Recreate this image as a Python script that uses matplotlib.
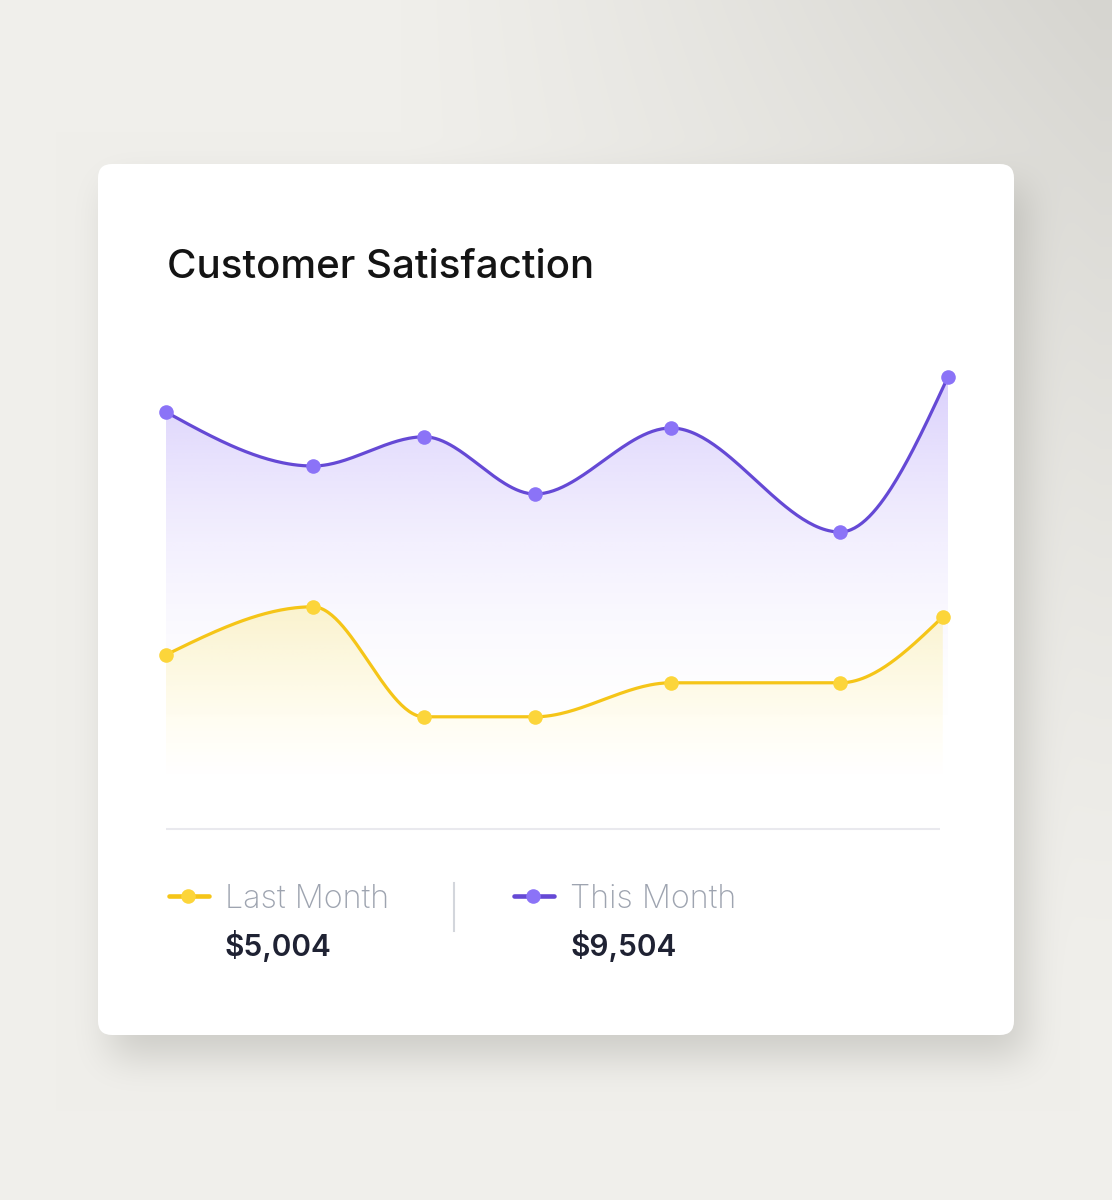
import numpy as np
import matplotlib
matplotlib.use("Agg")
import matplotlib.pyplot as plt
from matplotlib.patches import FancyBboxPatch, Polygon

# data (day of month, score)
days_this = [1, 6.64, 10.9, 15.16, 20.37, 26.86, 31]
days_last = [1, 6.64, 10.9, 15.16, 20.37, 26.86, 30.8]
this_month = [97, 83.5, 90.8, 76.5, 93, 67, 105.8]
last_month = [36.3, 48.3, 20.8, 20.8, 29.3, 29.3, 45.8]
series_names = ["Last Month", "This Month"]
totals = ["$5,004", "$9,504"]
title = "Customer Satisfaction"

W, H = 1112, 1200
FONT = ["Inter", "DejaVu Sans"]


def monotone(x, y, n=60):
    x = np.asarray(x, float)
    y = np.asarray(y, float)
    h = np.diff(x)
    s = np.diff(y) / h
    m = np.zeros_like(y)
    for i in range(1, len(y) - 1):
        if s[i - 1] * s[i] <= 0:
            m[i] = 0
        else:
            p = (s[i - 1] * h[i] + s[i] * h[i - 1]) / (h[i - 1] + h[i])
            m[i] = (np.sign(s[i - 1]) + np.sign(s[i])) * min(abs(s[i - 1]), abs(s[i]), 0.5 * abs(p))
    m[0] = (3 * s[0] - m[1]) / 2
    m[-1] = (3 * s[-1] - m[-2]) / 2
    xs, ys = [], []
    for i in range(len(h)):
        t = np.linspace(0, 1, n)
        h00 = 2 * t**3 - 3 * t**2 + 1
        h10 = t**3 - 2 * t**2 + t
        h01 = -2 * t**3 + 3 * t**2
        h11 = t**3 - t**2
        xs.append(x[i] + t * h[i])
        ys.append(h00 * y[i] + h10 * h[i] * m[i] + h01 * y[i + 1] + h11 * h[i] * m[i + 1])
    return np.concatenate(xs), np.concatenate(ys)


def box_blur(a, r, axis):
    c = np.cumsum(np.pad(a, [(r + 1, r) if ax == axis else (0, 0) for ax in range(2)], mode="edge"), axis=axis)
    if axis == 0:
        return (c[2 * r + 1:] - c[:-2 * r - 1]) / (2 * r + 1)
    return (c[:, 2 * r + 1:] - c[:, :-2 * r - 1]) / (2 * r + 1)


# background with soft shadow
yy, xx = np.mgrid[0:H, 0:W]
t = np.clip((xx - 400) / 700, 0, 1) ** 1.1 * np.clip(1 - yy / 1000, 0, 1) ** 1.3
light = np.array([240, 239, 235]) / 255
dark = np.array([214, 213, 208]) / 255
bg = light[None, None, :] * (1 - t[..., None]) + dark[None, None, :] * t[..., None]

card = (98, 164, 1014, 1035)
mask = np.zeros((H, W))
mask[card[1] + 22:card[3] + 22, card[0] + 12:card[2] + 12] = 1.0
for _ in range(3):
    mask = box_blur(mask, 18, 0)
    mask = box_blur(mask, 18, 1)
a = (mask * 0.28)[..., None]
bg = bg * (1 - a) + np.array([0.45, 0.45, 0.42])[None, None, :] * a

fig = plt.figure(figsize=(W / 100, H / 100), dpi=100)
bax = fig.add_axes([0, 0, 1, 1])
bax.imshow(bg, extent=(0, W, H, 0), aspect="auto", interpolation="bilinear")
bax.set_xlim(0, W)
bax.set_ylim(H, 0)
bax.axis("off")

bax.add_patch(FancyBboxPatch((card[0], card[1]), card[2] - card[0], card[3] - card[1],
                             boxstyle="round,pad=0,rounding_size=14", fc="white", ec="none"))

bax.text(167, 278, title, fontsize=29, color="#141414", family=FONT, fontweight="medium", va="baseline")

# separator and legend
bax.plot([166, 940], [829, 829], color="#e9e9ee", lw=1.5, solid_capstyle="butt")
bax.plot([454, 454], [883, 931], color="#d3d6dc", lw=1.5)

legend = [(167, 225, "#f5c518", "#fcd53a"), (512, 570, "#6549d5", "#8b73f7")]
for (lx, tx, lc, mc), name, val in zip(legend, series_names, totals):
    bax.plot([lx + 2, lx + 42], [896, 896], color=lc, lw=3.3, solid_capstyle="round")
    bax.plot([lx + 21], [896], "o", color=mc, ms=10.5, mec="none")
    bax.text(tx, 908, name, fontsize=23.3, color="#9ea4b0", family=FONT, fontweight="light", va="baseline")
    bax.text(tx, 956, val, fontsize=21.5, color="#1f2233", family=FONT, fontweight="semibold", va="baseline")

# chart area: x 166..948 px, value 0 at y=800 px, 110 at y=360 px
ax = fig.add_axes([166 / W, (H - 800) / H, 782 / W, 440 / H])
ax.set_xlim(1, 31)
ax.set_ylim(0, 110)
ax.patch.set_alpha(0)
ax.axis("off")

# (x, y, line colour, marker colour, fill colour, top alpha, fade floor, power)
series = [
    (days_this, this_month, "#6549d5", "#8b73f7", (139, 108, 246), 0.32, 12, 1.9),
    (days_last, last_month, "#f5c518", "#fcd53a", (255, 228, 60), 0.25, 5, 1.2),
]
for xs_, ys_, lc, mc, fc, amax, floor, pw in series:
    cx, cy = monotone(xs_, ys_)
    top = max(ys_)
    v = np.linspace(0, 110, 400)[:, None]
    alpha = amax * np.clip((v - floor) / (top - floor), 0, 1) ** pw
    img = np.zeros((400, 2, 4))
    img[..., :3] = np.array(fc) / 255
    img[..., 3] = np.repeat(alpha, 2, axis=1)
    poly = Polygon(np.column_stack([np.r_[cx[0], cx, cx[-1]], np.r_[0, cy, 0]]),
                   closed=True, fc="none", ec="none", transform=ax.transData)
    ax.add_patch(poly)
    im = ax.imshow(img, extent=(1, 31, 0, 110), origin="lower", aspect="auto", interpolation="bilinear")
    im.set_clip_path(poly)
    ax.plot(cx, cy, color=lc, lw=2.3, solid_capstyle="round", zorder=3)
    ax.plot(xs_, ys_, "o", color=mc, ms=10.5, mec="none", zorder=4, clip_on=False)

fig.savefig("out.png", dpi=100)
